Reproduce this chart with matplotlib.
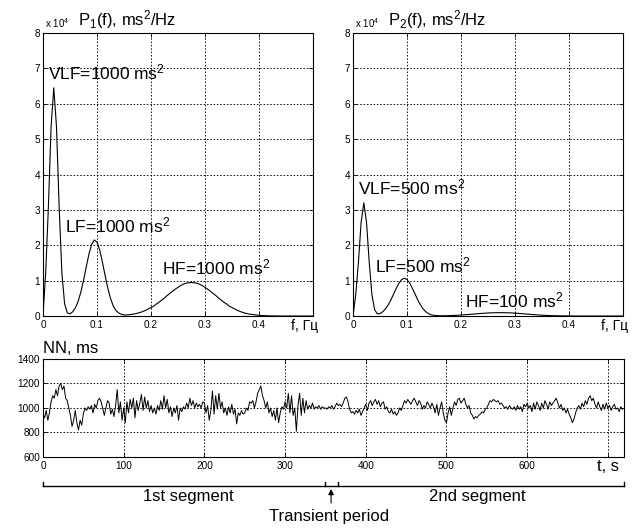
import matplotlib
matplotlib.use('Agg')
import matplotlib.pyplot as plt
from matplotlib.transforms import blended_transform_factory
import numpy as np

plt.rcParams['font.family'] = ['Liberation Sans', 'DejaVu Sans']
plt.rcParams['mathtext.fontset'] = 'custom'
plt.rcParams['mathtext.rm'] = 'Liberation Sans'
plt.rcParams['mathtext.it'] = 'Liberation Sans:italic'
plt.rcParams['mathtext.bf'] = 'Liberation Sans:bold'

# ---------------- data ----------------
freq_step = 0.005  # Hz, spectra sampled every 0.005 Hz from 0 to 0.5

# P1(f), units of 1e4 ms^2/Hz
P1 = [0.00, 1.22, 3.07, 5.35, 6.45, 5.35, 3.07, 1.22, 0.35, 0.09,
      0.06, 0.12, 0.23, 0.41, 0.67, 1.00, 1.38, 1.74, 2.02, 2.15,
      2.09, 1.87, 1.53, 1.15, 0.79, 0.50, 0.29, 0.16, 0.09, 0.05,
      0.03, 0.03, 0.04, 0.05, 0.06, 0.08, 0.10, 0.13, 0.16, 0.20,
      0.24, 0.28, 0.34, 0.39, 0.45, 0.51, 0.58, 0.64, 0.70, 0.76,
      0.81, 0.86, 0.90, 0.93, 0.94, 0.95, 0.94, 0.93, 0.90, 0.86,
      0.81, 0.76, 0.70, 0.64, 0.58, 0.51, 0.45, 0.39, 0.34, 0.28,
      0.24, 0.20, 0.16, 0.13, 0.10, 0.08, 0.06, 0.05, 0.04, 0.03,
      0.02, 0.014, 0.010, 0.007, 0.005, 0.003, 0.002, 0.001, 0.0, 0.0,
      0.0, 0.0, 0.0, 0.0, 0.0, 0.0, 0.0, 0.0, 0.0, 0.0,
      0.0]

# P2(f), units of 1e4 ms^2/Hz
P2 = [0.00, 0.60, 1.52, 2.65, 3.20, 2.65, 1.52, 0.60, 0.18, 0.06,
      0.07, 0.12, 0.20, 0.31, 0.45, 0.62, 0.78, 0.93, 1.03, 1.07,
      1.03, 0.93, 0.78, 0.62, 0.45, 0.31, 0.20, 0.12, 0.065, 0.034,
      0.018, 0.012, 0.008, 0.007, 0.008, 0.010, 0.012, 0.016, 0.020, 0.024,
      0.028, 0.034, 0.040, 0.045, 0.052, 0.058, 0.064, 0.070, 0.076, 0.081,
      0.086, 0.090, 0.092, 0.094, 0.095, 0.095, 0.094, 0.092, 0.090, 0.086,
      0.081, 0.076, 0.070, 0.064, 0.058, 0.052, 0.045, 0.040, 0.034, 0.028,
      0.024, 0.020, 0.016, 0.012, 0.010, 0.008, 0.006, 0.005, 0.004, 0.003,
      0.002, 0.001, 0.0, 0.0, 0.0, 0.0, 0.0, 0.0, 0.0, 0.0,
      0.0, 0.0, 0.0, 0.0, 0.0, 0.0, 0.0, 0.0, 0.0, 0.0,
      0.0]

spec_xticks = [0, 0.1, 0.2, 0.3, 0.4, 0.5]
spec_xticklabels = ['0', '0.1', '0.2', '0.3', '0.4', '']
spec_yticks = [0, 1, 2, 3, 4, 5, 6, 7, 8]

# NN intervals, ms, sampled every 2 s
nn_step = 2.0
NN = [950, 920, 980, 900, 960, 1050, 1100, 1080, 1150, 1100,
      1180, 1200, 1150, 1180, 1080, 1060, 1000, 940, 850, 900,
      980, 880, 820, 900, 860, 950, 1000, 980, 1010, 990,
      1020, 960, 1030, 1000, 1060, 1080, 1050, 1000, 940, 1000,
      1060, 1040, 950, 990, 930, 1020, 1150, 960, 1050, 900,
      1000, 880, 1050, 960, 1070, 1000, 1080, 920, 1060, 980,
      1040, 1110, 980, 1090, 1000, 1060, 970, 1020, 960, 1000,
      950, 1020, 980, 1060, 990, 1100, 1000, 1070, 960, 1010,
      930, 1000, 960, 1020, 900, 1000, 970, 1010, 990, 1040,
      1000, 1080, 1020, 1060, 1000, 1040, 1010, 1030, 1000, 1050,
      1040, 960, 1020, 900, 980, 1140, 950, 1100, 990, 1120,
      1000, 1050, 960, 1000, 940, 1010, 960, 1030, 950, 990,
      870, 960, 940, 980, 950, 960, 1000, 980, 1050, 1040,
      1060, 1000, 1050, 1120, 1150, 1180, 1100, 1060, 1000, 1050,
      960, 1000, 930, 980, 900, 1000, 880, 960, 1010, 990,
      1050, 1000, 1120, 960, 1100, 940, 1000, 810, 1020, 1120,
      940, 1080, 960, 1060, 990, 1020, 1000, 1040, 990, 1010,
      1000, 1020, 990, 1010, 1000, 1000, 990, 1010, 1000, 1020,
      990, 1010, 1040, 1020, 1030, 1010, 1040, 1080, 1090, 1050,
      990, 960, 970, 950, 980, 960, 990, 940, 970, 1000,
      1030, 980, 1040, 1060, 1020, 1050, 1070, 1030, 1060, 1010,
      1040, 1050, 990, 1010, 970, 960, 990, 950, 970, 940,
      960, 1000, 980, 1020, 1060, 1040, 1070, 1050, 1030, 1060,
      1080, 1050, 1020, 1060, 1040, 990, 1020, 1000, 1050, 1030,
      1000, 1040, 1010, 960, 1030, 940, 1000, 1050, 960, 900,
      880, 960, 1010, 940, 1000, 1050, 1020, 1070, 1080, 1040,
      1060, 1080, 1030, 1000, 1020, 960, 940, 910, 930, 920,
      940, 950, 970, 960, 990, 1000, 1030, 1060, 1050, 1070,
      1060, 1050, 1060, 1030, 1040, 1020, 1000, 1010, 990, 1020,
      1000, 990, 1010, 980, 1020, 990, 1010, 970, 1030, 1010,
      1040, 1000, 1020, 970, 1040, 990, 1050, 1020, 980, 1040,
      1000, 1060, 1030, 990, 1050, 1020, 1040, 1060, 1080, 1040,
      1000, 1030, 980, 1000, 960, 990, 950, 920, 880, 910,
      960, 1000, 1020, 990, 1040, 1010, 1060, 1030, 1080, 1100,
      1060, 1080, 1030, 1000, 1050, 1010, 980, 1030, 990, 1040,
      1000, 1020, 980, 1010, 1030, 990, 1000, 970, 1010, 990]

nn_xticks = [0, 100, 200, 300, 400, 500, 600, 700]
nn_xticklabels = ['0', '100', '200', '300', '400', '500', '600', '']
nn_yticks = [600, 800, 1000, 1200, 1400]

# segment bracket marks (s)
seg_marks = [0, 349, 365, 720]
transient_t = 357

# ---------------- figure ----------------
fig = plt.figure(figsize=(6.33, 5.29), dpi=100)
ax1 = fig.add_axes([0.0679, 0.4026, 0.4265, 0.535])
ax2 = fig.add_axes([0.5577, 0.4026, 0.4265, 0.535])
ax3 = fig.add_axes([0.0679, 0.1361, 0.9179, 0.1853])

TICK_FS = 7.2
GRID = dict(linestyle=(0, (2, 2)), color='black', linewidth=0.6)


def style(ax):
    for s in ax.spines.values():
        s.set_linewidth(0.8)
        s.set_color('black')
    ax.tick_params(direction='in', length=3, width=0.6, labelsize=TICK_FS,
                   top=True, right=True, pad=3)
    ax.tick_params(axis='y', pad=2)
    ax.grid(True, **GRID)
    ax.set_axisbelow(True)


freq = np.arange(len(P1)) * freq_step
for ax, P, title in [(ax1, P1, r'P$_\mathregular{1}$(f), ms$^\mathregular{2}$/Hz'),
                     (ax2, P2, r'P$_\mathregular{2}$(f), ms$^\mathregular{2}$/Hz')]:
    ax.plot(freq, P, color='black', linewidth=0.8)
    ax.set_xlim(0, 0.5)
    ax.set_ylim(0, 8)
    ax.set_xticks(spec_xticks)
    ax.set_xticklabels(spec_xticklabels)
    ax.set_yticks(spec_yticks)
    style(ax)
    ax.text(0.97, -0.037, 'f, Гц', transform=ax.transAxes, ha='center',
            va='center', fontsize=10)
    ax.text(0.007, 1.012, r'x 10$^\mathregular{4}$', transform=ax.transAxes,
            ha='left', va='bottom', fontsize=7)
    ax.text(0.13, 1.028, title, transform=ax.transAxes, ha='left',
            va='baseline', fontsize=12)

ANN_FS = 12.5
ax1.text(0.009, 6.7, r'VLF=1000 ms$^\mathregular{2}$', va='baseline', fontsize=ANN_FS)
ax1.text(0.041, 2.35, r'LF=1000 ms$^\mathregular{2}$', va='baseline', fontsize=ANN_FS)
ax1.text(0.22, 1.19, r'HF=1000 ms$^\mathregular{2}$', va='baseline', fontsize=ANN_FS)
ax2.text(0.009, 3.45, r'VLF=500 ms$^\mathregular{2}$', va='baseline', fontsize=ANN_FS)
ax2.text(0.041, 1.24, r'LF=500 ms$^\mathregular{2}$', va='baseline', fontsize=ANN_FS)
ax2.text(0.207, 0.23, r'HF=100 ms$^\mathregular{2}$', va='baseline', fontsize=ANN_FS)

t = np.arange(len(NN)) * nn_step
ax3.plot(t, NN, color='black', linewidth=0.7)
ax3.set_xlim(0, 720)
ax3.set_ylim(600, 1400)
ax3.set_xticks(nn_xticks)
ax3.set_xticklabels(nn_xticklabels)
ax3.set_yticks(nn_yticks)
style(ax3)
ax3.text(0.0, 1.06, 'NN, ms', transform=ax3.transAxes, ha='left',
         va='baseline', fontsize=12)
trx = blended_transform_factory(ax3.transData, ax3.transAxes)
ax3.text(700, -0.10, 't, s', transform=trx, ha='center', va='center',
         fontsize=12)

# bracket below the time axis
trf = blended_transform_factory(ax3.transData, fig.transFigure)
yb = 1 - 486 / 529
th = 4 / 529
ax3.plot([seg_marks[0], seg_marks[-1]], [yb, yb], transform=trf,
         color='black', linewidth=1.0, clip_on=False)
for m in seg_marks:
    ax3.plot([m, m], [yb, yb + th], transform=trf, color='black',
             linewidth=1.0, clip_on=False)
ax3.annotate('', xy=(transient_t, 1 - 489 / 529), xycoords=trf,
             xytext=(transient_t, 1 - 503 / 529), textcoords=trf,
             arrowprops=dict(arrowstyle='-|>', color='black', lw=0.8,
                             mutation_scale=8, shrinkA=0, shrinkB=0),
             annotation_clip=False)
ax3.text(180, 1 - 497 / 529, '1st segment', transform=trf, ha='center',
         va='center', fontsize=12)
ax3.text(538, 1 - 497 / 529, '2nd segment', transform=trf, ha='center',
         va='center', fontsize=12)
ax3.text(354, 1 - 516 / 529, 'Transient period', transform=trf, ha='center',
         va='center', fontsize=12)

fig.savefig('out.png', dpi=100)
